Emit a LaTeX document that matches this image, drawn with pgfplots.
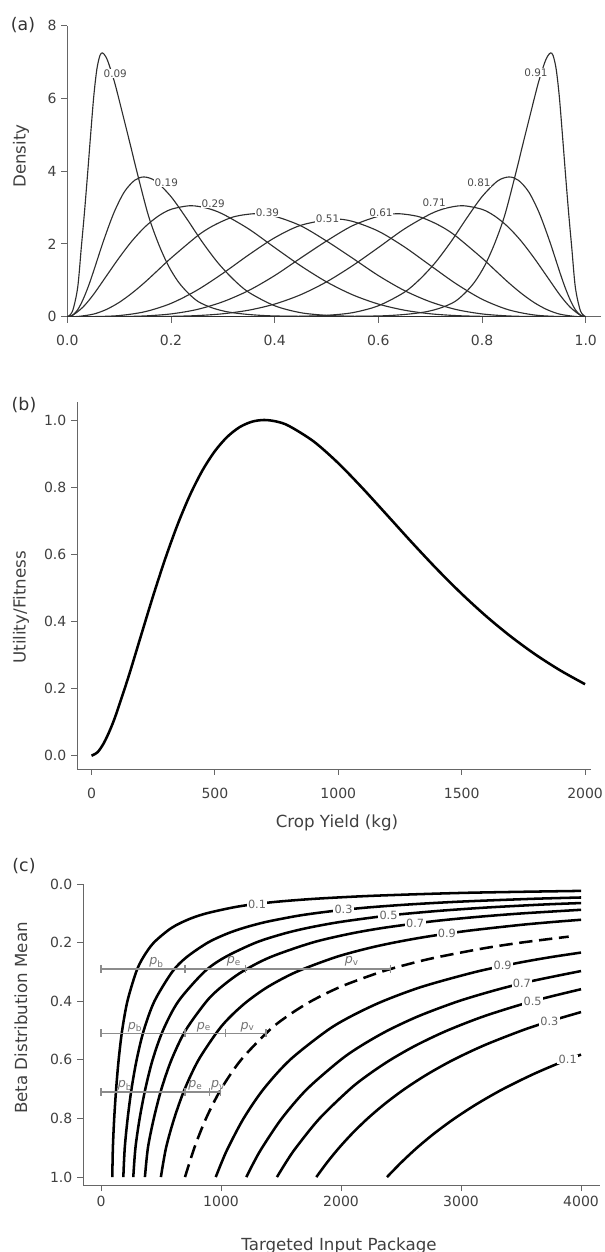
\documentclass[border=0pt]{standalone}
\usepackage{fontspec}
\setmainfont{DejaVu Sans}
\usepackage{pgfplots}
\pgfplotsset{compat=1.18}
\pgfplotsset{
 Rstyle/.style={scale only axis, anchor=south west,
   axis x line*=bottom, axis y line*=left,
   axis line style={draw=black!60, line width=0.7pt},
   tick align=outside, major tick length=4.5pt,
   tick style={draw=black!60, line width=0.7pt},
   tick label style={font=\fontsize{10.5}{12}\selectfont, text=black!75},
   /pgf/number format/assume math mode=true,
   /pgf/number format/1000 sep={},
   scaled ticks=false},
 onedec/.style={/pgf/number format/fixed, /pgf/number format/fixed zerofill, /pgf/number format/precision=1},
}
\tikzset{
 dens/.style={smooth, draw=black!82, line width=0.85pt},
 ctr/.style={smooth, draw=black, line width=1.9pt},
 lab/.style={font=\fontsize{8.5}{9}\selectfont, text=black!60, fill=white, inner xsep=1pt, inner ysep=0.3pt},
 dlab/.style={font=\fontsize{7.8}{8}\selectfont, text=black!70, fill=white, inner xsep=0.6pt, inner ysep=0.3pt},
 plab/.style={font=\fontsize{9.5}{10}\selectfont, text=black!55},
}
\begin{document}
\begin{tikzpicture}
% ---------------- panel (a)
\begin{axis}[Rstyle, at={(50.475pt,701.475pt)}, width=400.5pt, height=218.3pt,
  xmin=0, xmax=1.03, ymin=0, ymax=8,
  xtick={0,0.2,0.4,0.6,0.8,1.0}, ytick={0,2,4,6,8},
  xticklabel style={onedec, yshift=-6pt}]
\addplot[dens] coordinates {(0,0) (0.01,0.15) (0.02,0.8) (0.027,1.9) (0.033,2.85) (0.039,3.9) (0.045,5.0) (0.051,6.05) (0.057,6.8) (0.063,7.18) (0.068,7.25) (0.074,7.15) (0.08,6.95) (0.092,6.4) (0.108,5.5) (0.122,4.7) (0.134,4.0) (0.156,2.8) (0.176,2.0) (0.195,1.4) (0.214,0.96) (0.233,0.65) (0.253,0.41) (0.28,0.24) (0.31,0.13) (0.35,0.06) (0.4,0.02) (0.5,0.003) (0.6,0) (1,0)};
\addplot[dens] coordinates {(0,0) (0.01,0.04) (0.02,0.19) (0.03,0.46) (0.04,0.81) (0.05,1.22) (0.07,2.09) (0.09,2.86) (0.11,3.43) (0.13,3.75) (0.148,3.84) (0.17,3.73) (0.2,3.30) (0.23,2.70) (0.26,2.06) (0.29,1.49) (0.32,1.03) (0.35,0.67) (0.4,0.30) (0.45,0.11) (0.5,0.037) (0.55,0.011) (0.6,0.003) (0.7,0) (1,0)};
\addplot[dens] coordinates {(0,0) (0.01,0.036) (0.03,0.26) (0.05,0.60) (0.075,1.11) (0.1,1.62) (0.125,2.085) (0.15,2.47) (0.175,2.76) (0.2,2.95) (0.2375,3.05) (0.27,2.98) (0.3,2.82) (0.35,2.41) (0.4,1.90) (0.45,1.40) (0.5,0.957) (0.55,0.603) (0.6,0.347) (0.65,0.179) (0.7,0.08) (0.75,0.03) (0.8,0.009) (0.85,0.002) (1,0)};
\addplot[dens] coordinates {(0,0) (0.02,0.006) (0.05,0.069) (0.075,0.196) (0.1,0.392) (0.125,0.65) (0.15,0.95) (0.175,1.28) (0.2,1.61) (0.25,2.21) (0.275,2.45) (0.3,2.63) (0.325,2.76) (0.3625,2.83) (0.4,2.76) (0.45,2.50) (0.5,2.08) (0.55,1.61) (0.6,1.13) (0.65,0.72) (0.7,0.41) (0.75,0.197) (0.8,0.076) (0.85,0.021) (0.9,0.004) (1,0)};
\addplot[dens] coordinates {(0,0) (0.05,0.002) (0.1,0.031) (0.15,0.1375) (0.2,0.365) (0.25,0.726) (0.3,1.19) (0.35,1.70) (0.4,2.17) (0.45,2.51) (0.512,2.68) (0.55,2.62) (0.6,2.35) (0.65,1.92) (0.7,1.41) (0.75,0.904) (0.8,0.48) (0.85,0.194) (0.9,0.048) (0.95,0.004) (1,0)};
\addplot[dens] coordinates {(0,0) (0.1,0.004) (0.15,0.021) (0.2,0.076) (0.25,0.197) (0.3,0.41) (0.35,0.72) (0.4,1.13) (0.45,1.61) (0.5,2.08) (0.55,2.50) (0.6,2.76) (0.6375,2.83) (0.675,2.76) (0.7,2.63) (0.725,2.45) (0.75,2.21) (0.8,1.61) (0.825,1.28) (0.85,0.95) (0.875,0.65) (0.9,0.392) (0.925,0.196) (0.95,0.069) (0.98,0.006) (1,0)};
\addplot[dens] coordinates {(0,0) (0.15,0.002) (0.2,0.009) (0.25,0.03) (0.3,0.08) (0.35,0.179) (0.4,0.347) (0.45,0.603) (0.5,0.957) (0.55,1.40) (0.6,1.90) (0.65,2.41) (0.7,2.82) (0.73,2.98) (0.7625,3.05) (0.8,2.95) (0.825,2.76) (0.85,2.47) (0.875,2.085) (0.9,1.62) (0.925,1.11) (0.95,0.60) (0.97,0.26) (0.99,0.036) (1,0)};
\addplot[dens] coordinates {(0,0) (0.3,0) (0.4,0.003) (0.45,0.011) (0.5,0.037) (0.55,0.11) (0.6,0.30) (0.65,0.67) (0.68,1.03) (0.71,1.49) (0.74,2.06) (0.77,2.70) (0.8,3.30) (0.83,3.73) (0.852,3.84) (0.87,3.75) (0.89,3.43) (0.91,2.86) (0.93,2.09) (0.95,1.22) (0.96,0.81) (0.97,0.46) (0.98,0.19) (0.99,0.04) (1,0)};
\addplot[dens] coordinates {(0,0) (0.4,0) (0.5,0.003) (0.6,0.02) (0.65,0.06) (0.69,0.13) (0.72,0.24) (0.747,0.41) (0.767,0.65) (0.786,0.96) (0.805,1.4) (0.824,2.0) (0.844,2.8) (0.866,4.0) (0.878,4.7) (0.892,5.5) (0.908,6.4) (0.92,6.95) (0.926,7.15) (0.932,7.25) (0.937,7.18) (0.943,6.8) (0.949,6.05) (0.955,5.0) (0.961,3.9) (0.967,2.85) (0.973,1.9) (0.98,0.8) (0.99,0.15) (1,0)};
\node[dlab] at (axis cs:0.0925,6.69) {0.09};
\node[dlab] at (axis cs:0.191,3.67) {0.19};
\node[dlab] at (axis cs:0.2815,3.10) {0.29};
\node[dlab] at (axis cs:0.386,2.86) {0.39};
\node[dlab] at (axis cs:0.502,2.70) {0.51};
\node[dlab] at (axis cs:0.605,2.86) {0.61};
\node[dlab] at (axis cs:0.7075,3.12) {0.71};
\node[dlab] at (axis cs:0.794,3.68) {0.81};
\node[dlab] at (axis cs:0.904,6.71) {0.91};
\end{axis}
% ---------------- panel (b)
\begin{axis}[Rstyle, at={(57.75pt,362.25pt)}, width=385.5pt, height=275.25pt,
  xmin=-58.8, xmax=2024, ymin=-0.0396, ymax=1.0536,
  xtick={0,500,1000,1500,2000}, ytick={0,0.2,0.4,0.6,0.8,1.0},
  yticklabel style={onedec}, xticklabel style={yshift=-6pt}]
\addplot[ctr] coordinates {(0,0) (25,0.0107) (50,0.0377) (75,0.0766) (100,0.1242) (150,0.2355) (200,0.3564) (250,0.4767) (300,0.5894) (350,0.6907) (400,0.7780) (450,0.8503) (500,0.9073) (550,0.9497) (600,0.9786) (650,0.9949) (700,1.0) (750,0.9953) (800,0.9823) (900,0.9362) (1000,0.8713) (1100,0.7954) (1200,0.7148) (1300,0.6337) (1400,0.5555) (1500,0.4822) (1600,0.4150) (1700,0.3545) (1800,0.3008) (1900,0.2538) (2000,0.2129)};
\end{axis}
% ---------------- panel (c)
\begin{axis}[Rstyle, at={(62.25pt,50.25pt)}, width=387.75pt, height=225.75pt,
  xmin=-150, xmax=4158, ymin=0, ymax=1.027, y dir=reverse,
  xtick={0,1000,2000,3000,4000}, ytick={0,0.2,0.4,0.6,0.8,1.0},
  yticklabel style={onedec}]
\addplot[ctr] coordinates {(94,1.0) (99,0.9) (110,0.8) (126,0.7) (147,0.6) (176,0.5) (220,0.4) (293,0.3) (352,0.25) (440,0.2) (587,0.15) (733,0.12) (880,0.1) (1100,0.08) (1257,0.07) (1480,0.06) (1800,0.05) (2280,0.04) (3050,0.03) (4000,0.0235)};
\addplot[ctr] coordinates {(186,1.0) (198,0.9) (222,0.8) (254,0.7) (297,0.6) (356,0.5) (445,0.4) (593,0.3) (712,0.25) (890,0.2) (1047,0.17) (1187,0.15) (1369,0.13) (1618,0.11) (1780,0.1) (1978,0.09) (2225,0.08) (2560,0.07) (3000,0.06) (3600,0.0505) (4000,0.046)};
\addplot[ctr] coordinates {(269,1.0) (287,0.9) (322,0.8) (369,0.7) (430,0.6) (516,0.5) (645,0.4) (860,0.3) (1032,0.25) (1290,0.2) (1518,0.17) (1720,0.15) (1985,0.13) (2345,0.11) (2580,0.1) (2867,0.09) (3225,0.08) (3686,0.07) (4000,0.065)};
\addplot[ctr] coordinates {(366,1.0) (391,0.9) (440,0.8) (503,0.7) (587,0.6) (704,0.5) (880,0.4) (1006,0.35) (1173,0.3) (1408,0.25) (1760,0.2) (2071,0.17) (2347,0.15) (2708,0.13) (2933,0.12) (3200,0.11) (3520,0.1) (4000,0.088)};
\addplot[ctr] coordinates {(499,1.0) (542,0.9) (610,0.8) (697,0.7) (813,0.6) (976,0.5) (1084,0.45) (1220,0.4) (1394,0.35) (1627,0.3) (1952,0.25) (2218,0.22) (2440,0.2) (2711,0.18) (3050,0.16) (3486,0.14) (3754,0.13) (4000,0.122)};
\addplot[ctr, dash pattern=on 10pt off 5pt] coordinates {(700,1.0) (778,0.9) (875,0.8) (1000,0.7) (1167,0.6) (1400,0.5) (1556,0.45) (1750,0.4) (2000,0.35) (2333,0.3) (2593,0.27) (2800,0.25) (3182,0.22) (3500,0.2) (3897,0.1796)};
\addplot[ctr] coordinates {(956,1.0) (1005,0.95) (1059,0.9) (1188,0.8) (1354,0.7) (1575,0.6) (1884,0.5) (2090,0.45) (2348,0.4) (2679,0.35) (3121,0.3) (3465,0.27) (3740,0.25) (4000,0.234)};
\addplot[ctr] coordinates {(1211,1.0) (1273,0.95) (1342,0.9) (1506,0.8) (1716,0.7) (1997,0.6) (2175,0.55) (2389,0.5) (2651,0.45) (2978,0.4) (3306,0.36) (3603,0.33) (4000,0.297)};
\addplot[ctr] coordinates {(1466,1.0) (1541,0.95) (1624,0.9) (1821,0.8) (2074,0.7) (2230,0.65) (2412,0.6) (2627,0.55) (2885,0.5) (3200,0.45) (3595,0.4) (4000,0.359)};
\addplot[ctr] coordinates {(1794,1.0) (1884,0.95) (1984,0.9) (2096,0.85) (2222,0.8) (2365,0.75) (2528,0.7) (2716,0.65) (2935,0.6) (3195,0.55) (3506,0.5) (3725,0.47) (4000,0.437)};
\addplot[ctr] coordinates {(2383,1.0) (2502,0.95) (2633,0.9) (2780,0.85) (2946,0.8) (3134,0.75) (3348,0.7) (3596,0.65) (3823,0.61) (4000,0.582)};
% horizontal budget lines
\addplot[draw=black!45, line width=1.1pt, mark=|, mark size=3pt, mark options={solid, draw=black!45, line width=0.9pt}] coordinates {(0,0.29) (700,0.29) (1205,0.29) (2410,0.29)};
\addplot[draw=black!45, line width=1.1pt, mark=|, mark size=3pt, mark options={solid, draw=black!45, line width=0.9pt}] coordinates {(0,0.51) (700,0.51) (1040,0.51) (1375,0.51)};
\addplot[draw=black!45, line width=1.1pt, mark=|, mark size=3pt, mark options={solid, draw=black!45, line width=0.9pt}] coordinates {(0,0.71) (700,0.71) (905,0.71) (995,0.71)};
\node[plab] at (axis cs:463,0.268) {\textit{p}\textsubscript{b}};
\node[plab] at (axis cs:1108,0.265) {\textit{p}\textsubscript{e}};
\node[plab] at (axis cs:2090,0.265) {\textit{p}\textsubscript{v}};
\node[plab] at (axis cs:283,0.488) {\textit{p}\textsubscript{b}};
\node[plab] at (axis cs:858,0.488) {\textit{p}\textsubscript{e}};
\node[plab] at (axis cs:1221,0.488) {\textit{p}\textsubscript{v}};
\node[plab] at (axis cs:200,0.688) {\textit{p}\textsubscript{b}};
\node[plab] at (axis cs:787,0.688) {\textit{p}\textsubscript{e}};
\node[plab] at (axis cs:975,0.688) {\textit{p}\textsubscript{v}};
\node[lab] at (axis cs:1300,0.068) {0.1};
\node[lab] at (axis cs:2021,0.088) {0.3};
\node[lab] at (axis cs:2396,0.108) {0.5};
\node[lab] at (axis cs:2618,0.135) {0.7};
\node[lab] at (axis cs:2882,0.169) {0.9};
\node[lab] at (axis cs:3347,0.279) {0.9};
\node[lab] at (axis cs:3507,0.339) {0.7};
\node[lab] at (axis cs:3597,0.399) {0.5};
\node[lab] at (axis cs:3736,0.468) {0.3};
\node[lab] at (axis cs:3889,0.599) {0.1};
\end{axis}
% ---------------- texts
\node[font=\fontsize{13}{15}\selectfont, text=black!80] at (17.25pt,920.25pt) {(a)};
\node[font=\fontsize{13}{15}\selectfont, text=black!80] at (18pt,635.25pt) {(b)};
\node[font=\fontsize{13}{15}\selectfont, text=black!80] at (18pt,289.5pt) {(c)};
\node[rotate=90, font=\fontsize{12.5}{14}\selectfont, text=black!75] at (15.75pt,822pt) {Density};
\node[rotate=90, font=\fontsize{12.5}{14}\selectfont, text=black!75] at (15.75pt,483.4pt) {Utility/Fitness};
\node[rotate=90, font=\fontsize{12.5}{14}\selectfont, text=black!75] at (15.75pt,175.5pt) {Beta Distribution Mean};
\node[font=\fontsize{12.5}{14}\selectfont, text=black!75] at (252.75pt,321.75pt) {Crop Yield (kg)};
\node[font=\fontsize{12.5}{14}\selectfont, text=black!75, anchor=base] at (254.25pt,1.5pt) {Targeted Input Package};
\pgfresetboundingbox
\path[use as bounding box] (0pt,0pt) rectangle (453.75pt,939pt);
\end{tikzpicture}
\end{document}
